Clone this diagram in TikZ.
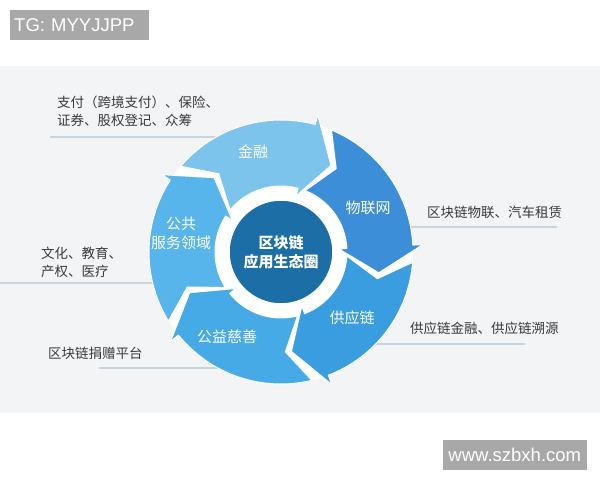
\documentclass[tikz,border=0pt]{standalone}
\usepackage{fontspec}
\setmainfont{Liberation Sans}
\newfontfamily\cjk{Noto Sans CJK SC}
\usepackage{xcolor}
\usetikzlibrary{positioning,calc}
\definecolor{ecoFin}{HTML}{7CC4EC}
\definecolor{ecoIot}{HTML}{3D8ED8}
\definecolor{ecoSup}{HTML}{3A9DE0}
\definecolor{ecoChar}{HTML}{46AAE7}
\definecolor{ecoPub}{HTML}{57B5EB}
\definecolor{ecoHub}{HTML}{1C6EA7}
\definecolor{ecoPanel}{HTML}{F3F4F6}
\definecolor{ecoLine}{HTML}{C8D5E0}
\definecolor{ecoText}{HTML}{3A3A3A}
\definecolor{ecoMark}{HTML}{A8A8A8}
% ring radii (pt)
\newcommand{\rIn}{66}
\newcommand{\rOut}{132}
\newcommand{\rMid}{100}
\newcommand{\rBarb}{142}
\newcommand{\rPoke}{58}
\tikzset{
  segarrow/.style={draw=white,line width=1pt,line join=round},
  hub/.style={circle,fill=ecoHub,draw=white,line width=1.5pt,minimum size=104,
    inner sep=0pt,align=center,text=white,font=\cjk\bfseries\fontsize{15}{19}\selectfont},
  seglabel/.style={align=center,text=white,font=\cjk\fontsize{15}{19}\selectfont},
  outlabel/.style={anchor=west,inner sep=0pt,align=left,text=ecoText,
    font=\cjk\fontsize{13.5}{18}\selectfont},
  leader/.style={draw=ecoLine,line width=2pt},
  markbox/.style={fill=ecoMark,text=white,minimum height=30,inner ysep=0pt,
    font=\fontsize{18.5}{20}\selectfont}
}

\begin{document}
\begin{tikzpicture}[x=1pt,y=1pt]
  \useasboundingbox (0,0) rectangle (600,480);
  \fill[white] (0,0) rectangle (600,480);
  \fill[ecoPanel] (0,67) rectangle (600,414);

  \coordinate (c) at (281,228);

  % underlines of the side texts
  \coordinate (finL) at (50,343);
  \coordinate (iotL) at (557,253);
  \coordinate (pubL) at (0,197);
  \coordinate (supL) at (525,136);
  \coordinate (charL) at (99,112);
  \draw[leader] (finL) -- (finL -| c);
  \draw[leader] (iotL) -- (iotL -| c);
  \draw[leader] (pubL) -- (pubL -| c);
  \draw[leader] (supL) -- (supL -| c);
  \draw[leader] (charL) -- (charL -| c);

  % the wheel
  \begin{scope}[shift={(c)}]
    \fill[white] (0,0) circle[radius=\rOut];
    \foreach \tip/\col in {60/ecoFin,-12/ecoIot,-84/ecoSup,-156/ecoChar,132/ecoPub}{
      \pgfmathsetmacro{\notch}{\tip+72-3.5}
      \pgfmathsetmacro{\tailO}{\notch+11}
      \pgfmathsetmacro{\tailI}{\notch+12}
      \pgfmathsetmacro{\head}{\tip+15}
      \path[segarrow,fill=\col] (\notch:\rMid) -- (\tailO:\rOut)
        arc[start angle=\tailO,end angle=\head,radius=\rOut]
        -- (\head:\rBarb) -- (\tip:\rMid) -- (\head:\rPoke) -- (\head:\rIn)
        arc[start angle=\head,end angle=\tailI,radius=\rIn] -- cycle;
    }
  \end{scope}
  \node[hub] (hub) at (c) {区块链\\应用生态圈};

  \node[seglabel] (fin) at (253,328) {金融};
  \node[seglabel] (iot) at (368,272) {物联网};
  \node[seglabel] (sup) at (352,162) {供应链};
  \node[seglabel] (char) at (227,143) {公益慈善};
  \node[seglabel] (pub) at (181,247) {公共\\服务领域};

  \node[outlabel] (finT) at (57,369) {支付（跨境支付）、保险、\\证券、股权登记、众筹};
  \node[outlabel] (iotT) at (427,268) {区块链物联、汽车租赁};
  \node[outlabel] (pubT) at (41,218) {文化、教育、\\产权、医疗};
  \node[outlabel] (supT) at (410,152) {供应链金融、供应链溯源};
  \node[outlabel] (charT) at (48,127) {区块链捐赠平台};

  % corner marks
  \node[markbox,anchor=north west,text width=131,inner xsep=4,align=left] (tg) at (10,470) {TG: MYYJJPP};
  \node[markbox,anchor=south east,text width=135,inner xsep=4.5,align=center] (web) at (587,10) {www.szbxh.com};
\end{tikzpicture}
\end{document}
